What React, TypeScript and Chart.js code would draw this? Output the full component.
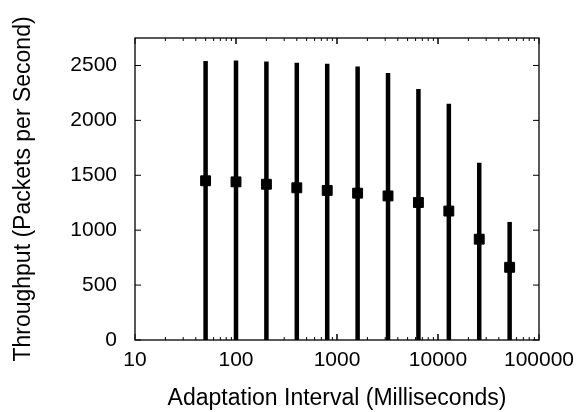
import React, { useEffect, useRef } from "react";
import { Chart, registerables } from "chart.js";

Chart.register(...registerables);

const intervals = [50, 100, 200, 400, 800, 1600, 3200, 6400, 12800, 25600, 51200];
const means = [1450, 1440, 1418, 1386, 1362, 1337, 1312, 1252, 1174, 918, 662];
const highs = [2540, 2545, 2535, 2525, 2515, 2490, 2432, 2285, 2152, 1615, 1075];
const lows = [0, 0, 0, 0, 0, 0, 0, 0, 0, 0, 0];
const xTicks = [10, 100, 1000, 10000, 100000];
const yTicks = [0, 500, 1000, 1500, 2000, 2500];

const FONT = "'Liberation Sans', Arial, Helvetica, sans-serif";

const frameTicks = {
  id: "frameTicks",
  afterDatasetsDraw(chart: any) {
    const { ctx, chartArea, scales } = chart;
    const { left, right, top, bottom } = chartArea;
    const xs = scales.x;
    const ys = scales.y;
    ctx.save();
    ctx.strokeStyle = "#000";
    ctx.lineWidth = 1.3;
    ctx.strokeRect(left, top, right - left, bottom - top);
    ctx.lineWidth = 1;
    ctx.beginPath();
    for (let d = 10; d < 100000; d *= 10) {
      for (let m = 1; m <= 10; m++) {
        const v = d * m;
        const px = xs.getPixelForValue(v);
        const len = m === 1 || m === 10 ? 6 : 3;
        ctx.moveTo(px, bottom);
        ctx.lineTo(px, bottom - len);
        ctx.moveTo(px, top);
        ctx.lineTo(px, top + len);
      }
    }
    for (const v of yTicks) {
      const py = ys.getPixelForValue(v);
      ctx.moveTo(left, py);
      ctx.lineTo(left + 6, py);
      ctx.moveTo(right, py);
      ctx.lineTo(right - 6, py);
    }
    ctx.stroke();
    ctx.restore();
  },
};

export default function App() {
  const ref = useRef<HTMLCanvasElement | null>(null);

  useEffect(() => {
    document.body.style.margin = "0";
    const canvas = ref.current;
    if (!canvas) return;

    const barSets = intervals.map((x, i) => ({
      type: "line" as const,
      data: [
        { x, y: lows[i] },
        { x, y: highs[i] },
      ],
      borderColor: "#000",
      borderWidth: 4.5,
      borderCapStyle: "butt" as const,
      pointRadius: 0,
      showLine: true,
      fill: false,
      order: 2,
    }));

    const meanSet = {
      type: "scatter" as const,
      data: intervals.map((x, i) => ({ x, y: means[i] })),
      backgroundColor: "#000",
      borderColor: "#000",
      borderWidth: 1,
      pointStyle: "rect" as const,
      pointRadius: 7,
      showLine: false,
      order: 1,
    };

    const chart = new Chart(canvas, {
      type: "scatter",
      data: { datasets: [...barSets, meanSet] as any },
      options: {
        animation: false,
        responsive: true,
        maintainAspectRatio: false,
        layout: { padding: { top: 38, right: 46, left: 0, bottom: 0 } },
        plugins: {
          legend: { display: false },
          tooltip: { enabled: false },
        },
        scales: {
          x: {
            type: "logarithmic",
            min: 10,
            max: 100000,
            grid: { display: false, drawTicks: false },
            border: { display: false },
            afterBuildTicks: (scale: any) => {
              scale.ticks = xTicks.map((v) => ({ value: v }));
            },
            afterFit: (scale: any) => {
              scale.height = 72;
            },
            ticks: {
              color: "#000",
              font: { family: FONT, size: 21 },
              padding: 8,
              maxRotation: 0,
              autoSkip: false,
              callback: (v: any) => String(v),
            },
            title: {
              display: true,
              text: "Adaptation Interval (Milliseconds)",
              color: "#000",
              font: { family: FONT, size: 23 },
              padding: { top: 0, bottom: 0 },
            },
          },
          y: {
            type: "linear",
            min: 0,
            max: 2750,
            grid: { display: false, drawTicks: false },
            border: { display: false },
            afterBuildTicks: (scale: any) => {
              scale.ticks = yTicks.map((v) => ({ value: v }));
            },
            afterFit: (scale: any) => {
              scale.width = 135;
            },
            ticks: {
              color: "#000",
              font: { family: FONT, size: 21 },
              padding: 18,
              autoSkip: false,
              callback: (v: any) => String(v),
            },
            title: {
              display: true,
              text: "Throughput (Packets per Second)",
              color: "#000",
              font: { family: FONT, size: 23 },
              padding: { top: 10, bottom: 0 },
            },
          },
        },
      },
      plugins: [frameTicks],
    });

    return () => chart.destroy();
  }, []);

  return (
    <div style={{ width: 585, height: 412, position: "relative", background: "#fff" }}>
      <canvas ref={ref} />
    </div>
  );
}
